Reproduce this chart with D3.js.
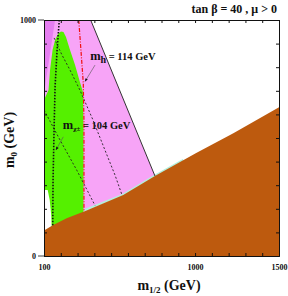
<!DOCTYPE html>
<html>
<head>
<meta charset="utf-8">
<script src="https://cdn.jsdelivr.net/npm/d3@7"></script>
<style>
  body { margin: 0; background: #fff; }
  svg { display: block; font-family: "Liberation Serif", "Times New Roman", serif; font-weight: bold; }
</style>
</head>
<body>
<div id="viz"></div>
<script>
// Values (m1/2, m0) in GeV
const staulsp = [[100,108],[155,131],[235,160],[350,192],[572,258],[761,339],[1004,435],[1228,520],[1500,630]];
const pinkEdge = [[378,1000],[761,339]];            // right edge of the pink band
const magentaCorner = [[100,1000],[166,1000],[100,689]];
const greenRegion = [[100,661],[127,703],[136,788],[151,873],[166,915],[183,941],[201,951],[216,949],[231,928],
                     [255,873],[285,809],[314,737],[332,695],[335,534],[335,185],[335,90],[100,90]];
const whiteNotch = [[100,280],[122,280],[134,237],[143,174],[146,119],[100,100]];
const charginoLine = [[191,1000],[178,873],[166,718],[160,534],[154,322],[152,125]];
const higgsLine = [[307,1000],[320,873],[334,733],[338,576],[338,192]];
const dashedC = [[160,924],[207,852],[255,788],[314,703],[392,576],[463,449],[523,343],[563,262]];
const dashedB = [[100,619],[195,492],[295,364],[344,297],[404,214]];
const relicStrip = [[340,194],[572,260],[761,341],[930,407]];

const xTicks = d3.range(100, 1501, 100);
const yTicks = d3.range(0, 1001, 100);
const xLabels = [100, 1000, 1500];
const yLabels = [0, 1000];

const W = 288, H = 296;
const margin = { left: 44, right: 9, top: 20, bottom: 40 };

const svg = d3.select('#viz').append('svg').attr('width', W).attr('height', H);

const x = d3.scaleLinear().domain([100, 1500]).range([margin.left, W - margin.right]);
const y = d3.scaleLinear().domain([0, 1000]).range([H - margin.bottom, margin.top]);

const line = d3.line().x(d => x(d[0])).y(d => y(d[1]));

svg.append('defs').append('clipPath').attr('id', 'clip')
  .append('rect').attr('x', x(100)).attr('y', y(1000))
  .attr('width', x(1500) - x(100)).attr('height', y(0) - y(1000));

const g = svg.append('g').attr('clip-path', 'url(#clip)');

// pink band: left axis -> black edge, down to the stau boundary
const pinkPoly = [[100,1000], ...pinkEdge, ...staulsp.filter(d => d[0] < 761).reverse()];
g.append('path').attr('d', line(pinkPoly) + 'Z').attr('fill', '#f7a4f7');
g.append('path').attr('d', line(magentaCorner) + 'Z').attr('fill', '#e57ef0');
g.append('path').attr('d', line(greenRegion) + 'Z').attr('fill', '#55f000');
g.append('path').attr('d', line(whiteNotch) + 'Z').attr('fill', '#fff');

// relic density strip
g.append('path').attr('d', line(relicStrip)).attr('fill', 'none')
  .attr('stroke', '#b4f0dc').attr('stroke-width', 2);

// brown excluded region
const brownPoly = [...staulsp, [1500,0], [100,0]];
g.append('path').attr('d', line(brownPoly) + 'Z').attr('fill', '#bd5a0e');

// contours
g.append('path').attr('d', line(pinkEdge)).attr('fill', 'none').attr('stroke', '#333').attr('stroke-width', 1);
g.append('path').attr('d', line(dashedB)).attr('fill', 'none').attr('stroke', '#222')
  .attr('stroke-width', 0.9).attr('stroke-dasharray', '2,2');
g.append('path').attr('d', line(dashedC)).attr('fill', 'none').attr('stroke', '#222')
  .attr('stroke-width', 0.9).attr('stroke-dasharray', '2,2');
g.append('path').attr('d', line(charginoLine)).attr('fill', 'none').attr('stroke', '#111')
  .attr('stroke-width', 1.6).attr('stroke-dasharray', '1.5,1.5');
g.append('path').attr('d', line(higgsLine)).attr('fill', 'none').attr('stroke', '#f01010')
  .attr('stroke-width', 1.2).attr('stroke-dasharray', '4,1.5,1,1.5');

// labels with arrows
const arrow = (from, to) => {
  svg.append('line').attr('x1', x(from[0])).attr('y1', y(from[1]))
    .attr('x2', x(to[0])).attr('y2', y(to[1])).attr('stroke', '#555').attr('stroke-width', 0.6);
  const a = Math.atan2(y(to[1]) - y(from[1]), x(to[0]) - x(from[0]));
  const tx = x(to[0]), ty = y(to[1]), L = 3.5;
  svg.append('path')
    .attr('d', `M${tx},${ty}L${tx - L * Math.cos(a - 0.4)},${ty - L * Math.sin(a - 0.4)}L${tx - L * Math.cos(a + 0.4)},${ty - L * Math.sin(a + 0.4)}Z`)
    .attr('fill', '#111');
};
arrow([404, 809], [344, 739]);
arrow([215, 505], [171, 449]);

const mh = svg.append('text').attr('x', x(375)).attr('y', y(830)).attr('font-size', 12.5).attr('fill', '#111');
mh.append('tspan').text('m');
mh.append('tspan').attr('dy', 3).attr('font-size', 10).text('h');
mh.append('tspan').attr('dy', -3).attr('font-size', 10.5).text(' = 114 GeV');

const mc = svg.append('text').attr('x', x(212)).attr('y', y(540)).attr('font-size', 12.5).attr('fill', '#111');
mc.append('tspan').text('m');
mc.append('tspan').attr('dy', 2.5).attr('font-size', 7).text('χ±');
mc.append('tspan').attr('dy', -2.5).attr('font-size', 10.5).text(' = 104 GeV');

// axes
const xb = svg.append('g').attr('transform', `translate(0,${y(0)})`)
  .call(d3.axisBottom(x).tickValues(xTicks).tickSize(-3).tickPadding(7)
    .tickFormat(d => xLabels.includes(d) ? d : ''));
const xt = svg.append('g').attr('transform', `translate(0,${y(1000)})`)
  .call(d3.axisTop(x).tickValues(xTicks).tickSize(-3).tickFormat(''));
const yl = svg.append('g').attr('transform', `translate(${x(100)},0)`)
  .call(d3.axisLeft(y).tickValues(yTicks).tickSize(-3).tickPadding(8)
    .tickFormat(d => yLabels.includes(d) ? d : ''));
const yr = svg.append('g').attr('transform', `translate(${x(1500)},0)`)
  .call(d3.axisRight(y).tickValues(yTicks).tickSize(-3).tickFormat(''));
[xb, xt, yl, yr].forEach(a => {
  a.select('.domain').attr('stroke', '#111');
  a.selectAll('.tick line').attr('stroke', '#111');
  a.selectAll('text').attr('font-family', '"Liberation Serif", serif').attr('font-weight', 'bold')
    .attr('font-size', 8).attr('fill', '#111');
});
xb.selectAll('text').attr('dy', '0.9em');
// small outward marks at the labelled y ticks
yLabels.forEach(v => {
  svg.append('line').attr('x1', x(100) - 6).attr('x2', x(100)).attr('y1', y(v)).attr('y2', y(v))
    .attr('stroke', '#111').attr('stroke-width', 0.8);
});

// titles
svg.append('text').attr('x', 277).attr('y', 12.5).attr('text-anchor', 'end')
  .attr('font-size', 12).attr('fill', '#111').text('tan β = 40 ,  μ > 0');

const xt2 = svg.append('text').attr('x', 169).attr('y', 290).attr('text-anchor', 'middle')
  .attr('font-size', 14).attr('fill', '#111');
xt2.append('tspan').text('m');
xt2.append('tspan').attr('dy', 3).attr('font-size', 9).text('1/2');
xt2.append('tspan').attr('dy', -3).text(' (GeV)');

const yt = svg.append('text').attr('transform', `translate(14,${(y(0) + y(1000)) / 2 + 2}) rotate(-90)`)
  .attr('text-anchor', 'middle').attr('font-size', 14).attr('fill', '#111');
yt.append('tspan').text('m');
yt.append('tspan').attr('dy', 3).attr('font-size', 9).text('0');
yt.append('tspan').attr('dy', -3).text(' (GeV)');
</script>
</body>
</html>
